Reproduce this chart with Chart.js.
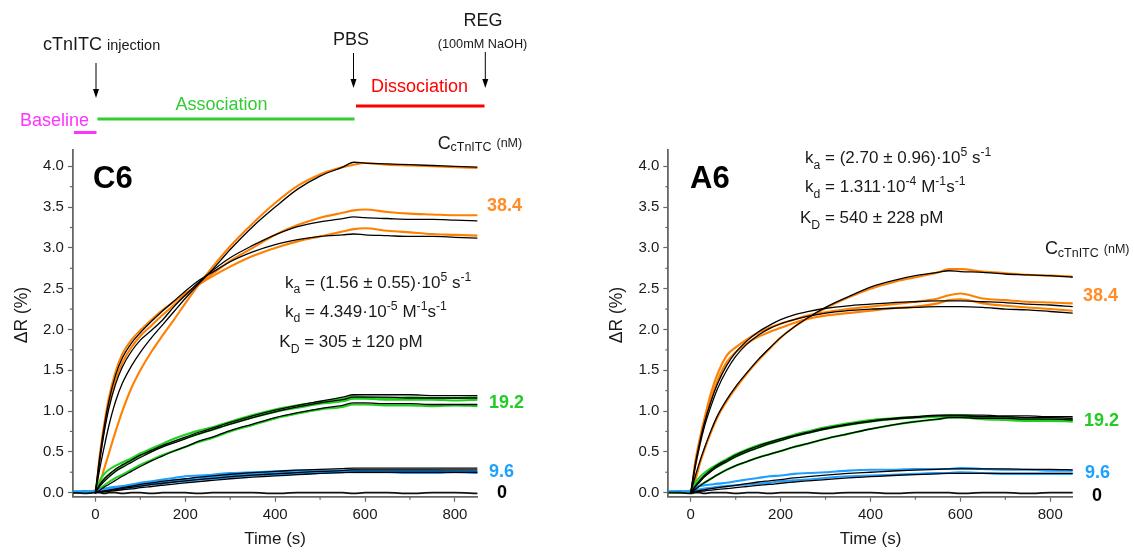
<!DOCTYPE html>
<html><head><meta charset="utf-8">
<script src="https://cdn.jsdelivr.net/npm/chart.js@4/dist/chart.umd.min.js"></script>
<style>
html,body{margin:0;padding:0;background:#fff;}
#wrap{position:relative;width:1134px;height:555px;overflow:hidden;background:#fff;}
canvas{position:absolute;top:0;}
#c1{left:0;}
#c2{left:567px;}
</style></head><body>
<div id="wrap"><canvas id="c1" width="567" height="555" style="width:567px;height:555px"></canvas><canvas id="c2" width="567" height="555" style="width:567px;height:555px"></canvas></div>
<script>
// ---------- axes ----------
const xTicks = [0, 200, 400, 600, 800];
const xMinorTicks = [100, 300, 500, 700];
const yTicks = [0, 0.5, 1, 1.5, 2, 2.5, 3, 3.5, 4];
const yTickLabels = ['0.0','0.5','1.0','1.5','2.0','2.5','3.0','3.5','4.0'];
const yMinorTicks = [0.25, 0.75, 1.25, 1.75, 2.25, 2.75, 3.25, 3.75];
const concLabels = ['38.4', '19.2', '9.6', '0'];

// ---------- time (s) ----------
const time = [-50,-25,0,10,20,30,45,60,80,100,125,150,175,200,230,260,300,350,400,450,500,550,575,600,650,700,750,800,850];

// ---------- C6 : measured curves ----------
const c6_384_a = [0.01,0.0,0.02,0.12,0.3,0.48,0.75,1.0,1.28,1.5,1.73,1.93,2.12,2.32,2.55,2.76,3.02,3.3,3.55,3.76,3.9,3.99,4.02,4.04,4.02,4.01,4.0,3.99,3.98];
const c6_384_b = [0.0,0.01,0.03,0.43,0.8,1.08,1.38,1.59,1.78,1.92,2.05,2.18,2.3,2.42,2.56,2.68,2.84,3.0,3.16,3.28,3.37,3.43,3.46,3.47,3.44,3.42,3.41,3.4,3.4];
const c6_384_c = [0.01,0.0,0.03,0.47,0.85,1.16,1.48,1.7,1.87,1.99,2.12,2.24,2.34,2.44,2.55,2.65,2.77,2.9,3.0,3.08,3.14,3.2,3.23,3.24,3.21,3.19,3.17,3.16,3.15];
const c6_192_a = [0.01,0.0,0.02,0.15,0.23,0.28,0.33,0.37,0.42,0.48,0.54,0.6,0.66,0.71,0.76,0.8,0.87,0.95,1.02,1.07,1.11,1.15,1.18,1.17,1.16,1.17,1.16,1.16,1.17];
const c6_192_b = [0.0,0.01,0.02,0.1,0.17,0.22,0.28,0.33,0.39,0.45,0.51,0.57,0.62,0.67,0.72,0.77,0.84,0.92,0.99,1.04,1.09,1.12,1.15,1.15,1.14,1.14,1.14,1.13,1.14];
const c6_192_c = [0.01,0.0,0.01,0.05,0.09,0.13,0.18,0.22,0.28,0.34,0.4,0.46,0.51,0.56,0.62,0.67,0.75,0.83,0.91,0.97,1.02,1.05,1.08,1.08,1.07,1.07,1.06,1.07,1.06];
const c6_96_a = [0.02,0.01,0.02,0.04,0.05,0.06,0.07,0.08,0.1,0.12,0.14,0.16,0.18,0.2,0.21,0.22,0.24,0.25,0.26,0.27,0.27,0.27,0.28,0.27,0.27,0.27,0.27,0.26,0.26];
const c6_96_b = [0.01,0.02,0.01,0.02,0.03,0.04,0.05,0.06,0.08,0.1,0.12,0.13,0.15,0.16,0.18,0.19,0.21,0.23,0.24,0.25,0.26,0.26,0.27,0.26,0.26,0.26,0.26,0.26,0.25];
const c6_96_c = [0.0,0.01,0.01,0.01,0.02,0.03,0.04,0.05,0.06,0.08,0.1,0.11,0.13,0.14,0.16,0.17,0.19,0.21,0.22,0.23,0.24,0.25,0.25,0.25,0.25,0.24,0.24,0.25,0.24];
const c6_0 = [0.0,-0.01,0.0,0.0,-0.01,0.0,0.0,-0.01,0.0,0.0,-0.01,0.0,0.0,0.0,-0.01,0.0,0.0,0.0,-0.01,0.0,0.0,0.0,-0.01,0.0,0.0,-0.01,0.0,0.0,-0.01];
// ---------- C6 : fits ----------
const c6_fit_384_a = [null,null,0,0.3,0.57,0.82,1.12,1.34,1.55,1.72,1.9,2.06,2.22,2.38,2.56,2.73,2.98,3.26,3.5,3.72,3.88,3.99,4.05,4.04,4.03,4.02,4.01,4.0,3.99];
const c6_fit_384_b = [null,null,0,0.4,0.75,1.03,1.33,1.54,1.73,1.87,1.99,2.12,2.28,2.42,2.58,2.72,2.88,3.03,3.16,3.26,3.32,3.36,3.38,3.37,3.36,3.35,3.35,3.34,3.33];
const c6_fit_384_c = [null,null,0,0.45,0.82,1.12,1.44,1.65,1.83,1.96,2.1,2.23,2.35,2.47,2.6,2.7,2.83,2.95,3.04,3.1,3.14,3.16,3.17,3.16,3.15,3.14,3.14,3.13,3.12];
const c6_fit_192_a = [null,null,0,0.1,0.17,0.22,0.29,0.34,0.4,0.46,0.52,0.58,0.63,0.68,0.74,0.79,0.86,0.94,1.01,1.07,1.12,1.17,1.2,1.2,1.2,1.2,1.19,1.19,1.19];
const c6_fit_192_b = [null,null,0,0.08,0.14,0.19,0.26,0.31,0.37,0.43,0.5,0.56,0.61,0.66,0.72,0.77,0.84,0.92,0.99,1.05,1.1,1.14,1.17,1.17,1.17,1.16,1.16,1.16,1.16];
const c6_fit_192_c = [null,null,0,0.03,0.07,0.1,0.15,0.2,0.26,0.32,0.39,0.45,0.51,0.56,0.63,0.68,0.76,0.84,0.92,0.98,1.03,1.07,1.1,1.1,1.09,1.09,1.08,1.08,1.08];
const c6_fit_96_a = [null,null,0,0.01,0.02,0.03,0.045,0.06,0.08,0.1,0.12,0.14,0.155,0.17,0.19,0.205,0.225,0.245,0.26,0.275,0.285,0.295,0.3,0.3,0.3,0.3,0.3,0.3,0.3];
const c6_fit_96_b = [null,null,0,0.01,0.015,0.025,0.035,0.05,0.065,0.08,0.1,0.115,0.13,0.145,0.16,0.175,0.195,0.215,0.23,0.245,0.26,0.27,0.28,0.28,0.28,0.28,0.28,0.28,0.28];
const c6_fit_96_c = [null,null,0,0.005,0.01,0.015,0.025,0.035,0.045,0.06,0.075,0.09,0.105,0.12,0.135,0.15,0.17,0.19,0.205,0.22,0.235,0.245,0.25,0.25,0.25,0.25,0.25,0.25,0.25];

// ---------- A6 : measured curves ----------
const a6_384_a = [0.01,0.0,0.02,0.15,0.35,0.52,0.74,0.93,1.12,1.28,1.46,1.62,1.76,1.9,2.03,2.14,2.26,2.39,2.5,2.58,2.64,2.7,2.74,2.74,2.71,2.69,2.67,2.66,2.65];
const a6_384_b = [0.0,0.01,0.03,0.38,0.66,0.9,1.22,1.46,1.68,1.78,1.88,1.96,2.02,2.07,2.12,2.17,2.21,2.25,2.28,2.31,2.34,2.38,2.42,2.44,2.38,2.36,2.34,2.33,2.32];
const a6_384_c = [0.01,0.0,0.02,0.33,0.6,0.84,1.14,1.38,1.6,1.72,1.83,1.91,1.97,2.02,2.08,2.13,2.17,2.2,2.23,2.26,2.28,2.32,2.36,2.37,2.32,2.29,2.27,2.25,2.23];
const a6_192_a = [0.01,0.0,0.02,0.12,0.19,0.24,0.3,0.35,0.41,0.47,0.53,0.58,0.62,0.66,0.71,0.75,0.8,0.85,0.89,0.91,0.93,0.94,0.95,0.95,0.93,0.92,0.91,0.9,0.9];
const a6_192_b = [0.0,0.01,0.01,0.09,0.15,0.2,0.27,0.32,0.38,0.44,0.5,0.55,0.6,0.64,0.69,0.73,0.78,0.83,0.87,0.9,0.92,0.93,0.94,0.94,0.92,0.91,0.9,0.89,0.89];
const a6_192_c = [0.01,0.0,0.02,0.05,0.09,0.12,0.17,0.22,0.28,0.33,0.38,0.43,0.47,0.51,0.56,0.6,0.66,0.72,0.78,0.83,0.87,0.9,0.92,0.92,0.9,0.89,0.88,0.88,0.87];
const a6_96_a = [0.02,0.01,0.02,0.06,0.08,0.09,0.1,0.11,0.12,0.14,0.16,0.18,0.2,0.21,0.23,0.24,0.25,0.27,0.28,0.28,0.29,0.29,0.29,0.3,0.29,0.28,0.28,0.27,0.27];
const a6_96_b = [0.01,0.02,0.01,0.03,0.04,0.05,0.06,0.07,0.08,0.09,0.1,0.11,0.12,0.14,0.15,0.16,0.18,0.2,0.21,0.22,0.23,0.24,0.24,0.25,0.24,0.23,0.23,0.23,0.23];
const a6_0 = [0.0,0.0,-0.01,0.0,0.0,-0.01,0.0,0.0,0.0,-0.01,0.0,0.0,-0.01,0.0,0.0,0.0,-0.01,0.0,0.0,-0.01,0.0,0.0,0.0,-0.01,0.0,0.0,-0.01,0.0,0.0];
// ---------- A6 : fits ----------
const a6_fit_384_a = [null,null,0,0.2,0.38,0.54,0.76,0.95,1.14,1.3,1.47,1.63,1.77,1.9,2.03,2.14,2.27,2.4,2.52,2.6,2.66,2.7,2.72,2.71,2.7,2.68,2.67,2.66,2.64];
const a6_fit_384_b = [null,null,0,0.35,0.62,0.85,1.12,1.34,1.56,1.72,1.86,1.97,2.05,2.12,2.18,2.22,2.26,2.29,2.31,2.33,2.34,2.35,2.35,2.35,2.34,2.33,2.31,2.3,2.28];
const a6_fit_384_c = [null,null,0,0.32,0.58,0.8,1.06,1.28,1.5,1.67,1.82,1.93,2.01,2.07,2.12,2.16,2.2,2.23,2.25,2.26,2.27,2.28,2.28,2.28,2.27,2.25,2.24,2.22,2.2];
const a6_fit_192_a = [null,null,0,0.08,0.15,0.21,0.28,0.34,0.4,0.46,0.52,0.57,0.62,0.66,0.7,0.74,0.79,0.84,0.88,0.91,0.93,0.95,0.95,0.95,0.95,0.94,0.94,0.93,0.93];
const a6_fit_192_b = [null,null,0,0.07,0.13,0.19,0.26,0.32,0.38,0.44,0.5,0.55,0.6,0.64,0.69,0.73,0.78,0.83,0.87,0.9,0.92,0.94,0.94,0.94,0.93,0.93,0.92,0.92,0.91];
const a6_fit_192_c = [null,null,0,0.04,0.08,0.12,0.17,0.22,0.28,0.33,0.38,0.43,0.47,0.51,0.56,0.6,0.66,0.72,0.78,0.83,0.87,0.9,0.92,0.92,0.91,0.91,0.9,0.9,0.89];
const a6_fit_96_a = [null,null,0,0.015,0.025,0.035,0.05,0.06,0.075,0.09,0.11,0.13,0.145,0.16,0.18,0.195,0.215,0.235,0.25,0.265,0.275,0.285,0.29,0.29,0.29,0.29,0.285,0.285,0.28];
const a6_fit_96_b = [null,null,0,0.008,0.015,0.02,0.03,0.04,0.05,0.06,0.075,0.09,0.1,0.115,0.13,0.145,0.16,0.18,0.195,0.21,0.22,0.23,0.235,0.235,0.235,0.235,0.235,0.235,0.235];

// ---------- style ----------
const FONT = '"Liberation Sans", Arial, Helvetica, sans-serif';
const AXIS = '#666666';
const TXT = '#1a1a1a';
const ORANGE = '#ff8000', ORANGE_T = '#ff8c26';
const GREEN = '#1fd01f', GREEN_T = '#22cc22';
const BLUE = '#1e9eff', BLUE_T = '#1ea0ff';

function pts(vals){ return time.map((t,i)=>({x:t,y:vals[i]})).filter(p=>p.y!==null); }
function dataSet(vals, color, w){ return {data:pts(vals), borderColor:color, borderWidth:w||2.1, order:2}; }
function fitSet(vals){ return {data:pts(vals), borderColor:'#000', borderWidth:1.3, order:1}; }

function rich(ctx, x, y, parts, base, color){
  let cx = x;
  ctx.fillStyle = color || TXT;
  ctx.textBaseline = 'alphabetic';
  ctx.textAlign = 'left';
  for (const [t,k] of parts){
    const size = k ? base*0.72 : base;
    ctx.font = size + 'px ' + FONT;
    const dy = k===1 ? base*0.32 : (k===2 ? -base*0.42 : 0);
    ctx.fillText(t, cx, y+dy);
    cx += ctx.measureText(t).width;
  }
}
function text(ctx, s, x, y, font, color, align){
  ctx.font = font; ctx.fillStyle = color || TXT; ctx.textAlign = align || 'left'; ctx.textBaseline='alphabetic';
  ctx.fillText(s, x, y);
}
function arrowDown(ctx, x, y1, y2){
  ctx.save(); ctx.strokeStyle='#000'; ctx.fillStyle='#000'; ctx.lineWidth=1;
  ctx.beginPath(); ctx.moveTo(x, y1); ctx.lineTo(x, y2-6); ctx.stroke();
  ctx.beginPath(); ctx.moveTo(x-3, y2-9); ctx.lineTo(x+3, y2-9); ctx.lineTo(x, y2); ctx.closePath(); ctx.fill();
  ctx.restore();
}
function hline(ctx, x1, x2, y, color, w){
  ctx.save(); ctx.strokeStyle=color; ctx.lineWidth=w; ctx.beginPath(); ctx.moveTo(x1,y); ctx.lineTo(x2,y); ctx.stroke(); ctx.restore();
}

const axisDecor = {
  id:'axisDecor',
  afterDraw(chart, args, opts){
    const {ctx, scales:{x,y}, chartArea:a} = chart;
    ctx.save();
    ctx.strokeStyle = AXIS; ctx.lineWidth = 1.2;
    yMinorTicks.forEach(v=>{ const py=y.getPixelForValue(v); ctx.beginPath(); ctx.moveTo(a.left,py); ctx.lineTo(a.left-3,py); ctx.stroke(); });
    xMinorTicks.forEach(v=>{ const px=x.getPixelForValue(v); ctx.beginPath(); ctx.moveTo(px,a.bottom); ctx.lineTo(px,a.bottom+3); ctx.stroke(); });
    ctx.translate(opts.ytx, 315); ctx.rotate(-Math.PI/2);
    ctx.font = '17.5px ' + FONT; ctx.fillStyle = TXT; ctx.textAlign='center'; ctx.textBaseline='middle';
    ctx.fillText('\u0394R (%)', 0, 0);
    ctx.restore();
    ctx.save();
    opts.draw(ctx, chart);
    ctx.restore();
  }
};

function makeChart(id, datasets, padL, padR, ytx, draw){
  return new Chart(document.getElementById(id), {
    type:'line',
    data:{datasets},
    options:{
      responsive:false, animation:false, devicePixelRatio:1,
      layout:{padding:{left:padL, right:padR, top:150, bottom:0}},
      elements:{point:{radius:0}, line:{cubicInterpolationMode:'monotone', borderJoinStyle:'round', borderCapStyle:'round'}},
      plugins:{legend:{display:false}, tooltip:{enabled:false}, axisDecor:{ytx, draw}},
      scales:{
        x:{type:'linear', min:-50, max:850,
          afterBuildTicks:s=>{ s.ticks = xTicks.map(v=>({value:v})); },
          afterFit:s=>{ s.height = 58.3; },
          ticks:{callback:v=>String(v), font:{family:FONT,size:15}, color:TXT, padding:4, maxRotation:0, autoSkip:false},
          grid:{drawOnChartArea:false, color:AXIS, tickColor:AXIS, tickLength:5, tickWidth:1.2},
          border:{color:AXIS, width:1.8},
          title:{display:true, text:'Time (s)', font:{family:FONT,size:17}, color:TXT, padding:{top:0,bottom:5}}
        },
        y:{type:'linear', min:-0.05, max:4.2,
          afterBuildTicks:s=>{ s.ticks = yTicks.map(v=>({value:v})); },
          afterFit:s=>{ s.width = 72.9; },
          ticks:{callback:(v,i)=>yTickLabels[i], font:{family:FONT,size:15}, color:TXT, padding:4, autoSkip:false},
          grid:{drawOnChartArea:false, color:AXIS, tickColor:AXIS, tickLength:5, tickWidth:1.2},
          border:{color:AXIS, width:1.8}
        }
      }
    },
    plugins:[axisDecor]
  });
}

// ---------- left panel (C6) ----------
const c6Sets = [
  fitSet(c6_fit_384_a), fitSet(c6_fit_384_b), fitSet(c6_fit_384_c),
  fitSet(c6_fit_192_a), fitSet(c6_fit_192_b), fitSet(c6_fit_192_c),
  fitSet(c6_fit_96_a), fitSet(c6_fit_96_b), fitSet(c6_fit_96_c),
  dataSet(c6_0, '#111', 1.8),
  dataSet(c6_96_a, BLUE), dataSet(c6_96_b, BLUE), dataSet(c6_96_c, BLUE),
  dataSet(c6_192_a, GREEN), dataSet(c6_192_b, GREEN), dataSet(c6_192_c, GREEN),
  dataSet(c6_384_a, ORANGE), dataSet(c6_384_b, ORANGE), dataSet(c6_384_c, ORANGE)
];
makeChart('c1', c6Sets, 0, 89.6, 21.7, (ctx)=>{
  text(ctx, 'cTnITC', 43, 49.5, '18px '+FONT);
  ctx.font = '18px '+FONT; const w1 = ctx.measureText('cTnITC ').width;
  text(ctx, 'injection', 43+w1, 49.5, '14.5px '+FONT);
  arrowDown(ctx, 96, 63, 98);
  text(ctx, 'Baseline', 20, 126, '18px '+FONT, '#ff33ff');
  hline(ctx, 74, 96.5, 132.5, '#ff33ff', 3);
  hline(ctx, 97.5, 354.5, 119, '#33cc33', 3);
  text(ctx, 'Association', 221.5, 110, '18px '+FONT, '#33cc33', 'center');
  text(ctx, 'PBS', 351, 45, '18px '+FONT, TXT, 'center');
  arrowDown(ctx, 353.5, 53, 88);
  hline(ctx, 356, 484.5, 106, '#ff0000', 3);
  text(ctx, 'Dissociation', 419.5, 92.3, '18px '+FONT, '#ff0000', 'center');
  text(ctx, 'REG', 483, 26, '18px '+FONT, TXT, 'center');
  text(ctx, '(100mM NaOH)', 482.5, 47.5, '12.7px '+FONT, TXT, 'center');
  arrowDown(ctx, 485.3, 52, 88);
  text(ctx, 'C6', 93, 188, 'bold 31px '+FONT, '#000');
  rich(ctx, 437.7, 148.5, [['C',0]], 18);
  rich(ctx, 450.5, 151, [['cTnITC',0]], 12.5);
  rich(ctx, 496.5, 147, [['(nM)',0]], 12.5);
  rich(ctx, 285, 288, [['k',0],['a',1],[' = (1.56 \u00b1 0.55)\u00b710',0],['5',2],[' s',0],['-1',2]], 17);
  rich(ctx, 285, 317, [['k',0],['d',1],[' = 4.349\u00b710',0],['-5',2],[' M',0],['-1',2],['s',0],['-1',2]], 17);
  rich(ctx, 279.3, 347.3, [['K',0],['D',1],[' = 305 \u00b1 120 pM',0]], 17);
  text(ctx, concLabels[0], 487, 211, 'bold 18px '+FONT, ORANGE_T);
  text(ctx, concLabels[1], 489, 408, 'bold 18px '+FONT, GREEN_T);
  text(ctx, concLabels[2], 489, 476.5, 'bold 18px '+FONT, BLUE_T);
  text(ctx, concLabels[3], 497, 498, 'bold 18px '+FONT, '#000');
});

// ---------- right panel (A6) ----------
const a6Sets = [
  fitSet(a6_fit_384_a), fitSet(a6_fit_384_b), fitSet(a6_fit_384_c),
  fitSet(a6_fit_192_a), fitSet(a6_fit_192_b), fitSet(a6_fit_192_c),
  fitSet(a6_fit_96_a), fitSet(a6_fit_96_b),
  dataSet(a6_0, '#111', 1.8),
  dataSet(a6_96_a, BLUE), dataSet(a6_96_b, BLUE),
  dataSet(a6_192_a, GREEN), dataSet(a6_192_b, GREEN), dataSet(a6_192_c, GREEN),
  dataSet(a6_384_a, ORANGE), dataSet(a6_384_b, ORANGE), dataSet(a6_384_c, ORANGE)
];
const OX = 567;
makeChart('c2', a6Sets, 28.4, 61.3, 49.7, (ctx)=>{
  text(ctx, 'A6', 690-OX, 188, 'bold 31px '+FONT, '#000');
  rich(ctx, 1045-OX, 254, [['C',0]], 18);
  rich(ctx, 1057.8-OX, 256.5, [['cTnITC',0]], 12.5);
  rich(ctx, 1103.8-OX, 252.5, [['(nM)',0]], 12.5);
  rich(ctx, 805-OX, 163.3, [['k',0],['a',1],[' = (2.70 \u00b1 0.96)\u00b710',0],['5',2],[' s',0],['-1',2]], 17);
  rich(ctx, 805-OX, 192.3, [['k',0],['d',1],[' = 1.311\u00b710',0],['-4',2],[' M',0],['-1',2],['s',0],['-1',2]], 17);
  rich(ctx, 800-OX, 223.3, [['K',0],['D',1],[' = 540 \u00b1 228 pM',0]], 17);
  text(ctx, concLabels[0], 1083-OX, 301, 'bold 18px '+FONT, ORANGE_T);
  text(ctx, concLabels[1], 1084-OX, 426, 'bold 18px '+FONT, GREEN_T);
  text(ctx, concLabels[2], 1085-OX, 478, 'bold 18px '+FONT, BLUE_T);
  text(ctx, concLabels[3], 1092-OX, 501, 'bold 18px '+FONT, '#000');
});
</script>
</body></html>
